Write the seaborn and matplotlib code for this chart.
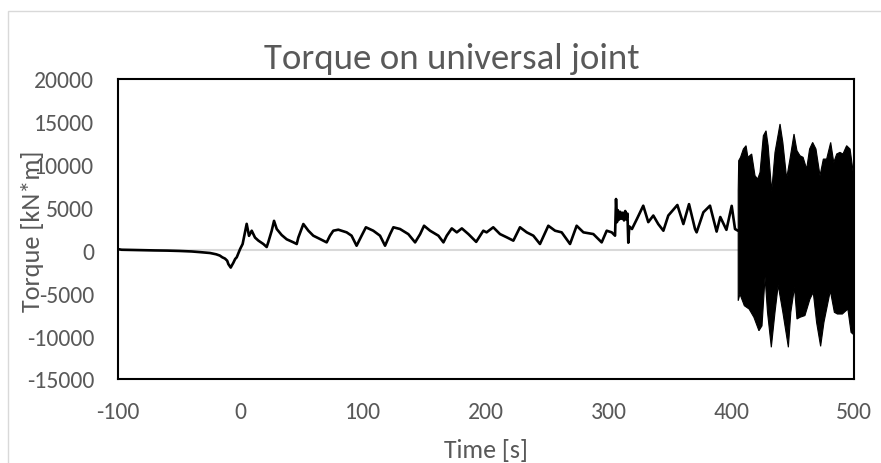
import numpy as np
import pandas as pd
import matplotlib
matplotlib.use("Agg")
import matplotlib.pyplot as plt
from matplotlib import font_manager
from matplotlib.patches import Rectangle
import seaborn as sns

# Torque signal before the burst (time in s, torque in kN*m)
time_s = [
    -100, -97, -90, -80, -70, -60, -50, -40, -33, -25, -20, -17, -15, -12.8, -11,
    -10, -8.1, -7, -6, -4.5, -3.2, -0.5, 1.6, 3.5, 4.9, 6.8, 9.0, 11.7, 14.4,
    18.5, 21.2, 22.5, 25.3, 27.2, 29.4, 33.4, 37.5, 42.9, 45.7, 47.0, 51.1, 55.2,
    59.2, 64.7, 70.1, 72.8, 75.5, 79.6, 86.4, 90.4, 94.5, 98.6, 102.1, 108.1,
    113.6, 117.7, 121.8, 124.5, 129.9, 136.7, 142.2, 146.3, 149.5, 154.4, 161.2,
    165.3, 168.0, 172.1, 176.2, 180.3, 185.7, 192.0, 197.8, 200.5, 205.9, 211.4,
    216.9, 222.3, 227.7, 233.2, 238.6, 244.0, 250.8, 256.3, 261.7, 268.5, 273.9,
    279.4, 287.5, 294.3, 298.4, 302.5, 305.2, 306.0, 306.8, 307.5, 308.5, 309.5,
    310.5, 311.5, 312.5, 313.5, 314.5, 315.3, 316.0, 316.8, 319.0, 323.1, 328.2,
    332.3, 336.4, 340.4, 344.6, 348.6, 356.0, 360.9, 365.5, 370.4, 371.7, 377.2,
    382.6, 388.0, 391.0, 396.0, 400.3, 403.0, 405.4,
]
torque_knm = [
    150, 80, 60, 30, 0, -20, -60, -120, -200, -300, -450, -600, -800, -950, -1200,
    -1600, -2000, -1700, -1450, -1000, -800, 150, 750, 2100, 3100, 1700, 2300, 1500, 1150,
    750, 400, 950, 2300, 3450, 2500, 1800, 1300, 950, 750, 1500, 3080, 2300,
    1720, 1330, 940, 1720, 2300, 2420, 2110, 1720, 550, 1720, 2700, 2300,
    1720, 550, 1900, 2700, 2500, 1900, 940, 1900, 2880, 2300, 1720,
    940, 1720, 2570, 2110, 2570, 1900, 1000, 2300, 2110, 2700, 1910,
    1530, 1140, 2700, 2110, 1720, 750, 2880, 2300, 2110, 750, 2880,
    2110, 1910, 940, 2300, 2110, 1720, 6000, 3300, 4700, 3600, 4500,
    3700, 4400, 3500, 4600, 3600, 4300, 900, 2800, 2500, 3690, 5220,
    3300, 4070, 3080, 2300, 4070, 5300, 3080, 5400, 2500, 2110, 4450,
    5220, 2200, 3900, 2400, 5200, 2500, 2300,
]

# Upper and lower envelope of the high-frequency burst after ~405 s
burst_time_upper = [
    405.6, 406.0, 407.5, 409.8, 412.0, 413.5, 416.6, 419.3, 421.5, 423.4, 426.1,
    428.3, 430.0, 432.9, 435.6, 439.7, 442.0, 445.1, 447.8, 451.1, 453.5, 456.0,
    458.5, 461.4, 463.8, 466.3, 469.0, 472.3, 475.0, 477.7, 481.0, 483.5, 485.9,
    488.5, 491.0, 494.0, 496.8, 499.0, 500.0,
]
burst_upper = [
    7000, 10470, 10860, 11830, 12220, 10860, 11250, 8720, 8330, 9110, 13380,
    13960, 12220, 6900, 11440, 14750, 12600, 8400, 10660, 13580, 11640, 11050,
    10860, 9500, 11830, 12600, 11830, 8720, 10660, 10660, 12600, 10270, 11250,
    11440, 11250, 12220, 11830, 9500, 7900,
]
burst_time_lower = [
    405.6, 407.0, 410.6, 414.5, 418.4, 422.5, 425.0, 427.5, 429.5, 432.6, 435.6,
    438.2, 442.0, 446.5, 448.5, 451.5, 453.5, 456.0, 460.0, 464.1, 466.8, 469.5,
    472.8, 475.5, 480.7, 484.0, 486.5, 490.5, 495.0, 497.6, 499.5, 500.0,
]
burst_lower = [
    -5870, -5090, -6450, -6840, -7800, -9370, -8800, -3100, -7220, -11300, -7220,
    -4050, -7220, -11300, -7220, -4300, -8000, -7800, -7600, -5670, -4890, -8390,
    -11190, -8390, -4700, -7220, -7420, -7420, -6840, -9560, -9800, -9000,
]

x_ticks = [-100, 0, 100, 200, 300, 400, 500]
y_ticks = [-15000, -10000, -5000, 0, 5000, 10000, 15000, 20000]

TEXT = "#595959"
GRID = "#d9d9d9"

sns.set_theme(style="white")
installed = {f.name for f in font_manager.fontManager.ttflist}
base_font = "Carlito" if "Carlito" in installed else "Lato"
plt.rcParams["font.family"] = [base_font, "DejaVu Sans"]

W, H = 881, 464
fig = plt.figure(figsize=(W / 100, H / 100), dpi=100)
fig.patch.set_facecolor("white")
renderer = fig.canvas.get_renderer()


def fit_size(artist, target_px, start_pt, vertical=False):
    """Scale a text artist's font so its extent spans target_px pixels."""
    artist.set_fontsize(start_pt)
    bb = artist.get_window_extent(renderer)
    span = bb.height if vertical else bb.width
    artist.set_fontsize(start_pt * target_px / span)
    return start_pt * target_px / span


def fx(px):
    return px / W


def fy(py):
    return 1 - py / H


# light chart-area frame
fig.add_artist(Rectangle((fx(8), -0.1), 1.2, fy(12) + 0.1,
                         transform=fig.transFigure, fill=False,
                         edgecolor=GRID, linewidth=1.0))

ax = fig.add_axes([fx(118), fy(380), (854 - 118) / W, (380 - 80) / H])

ax.axhline(0, color=GRID, linewidth=1.5, zorder=1)

signal = pd.DataFrame({"Time [s]": time_s, "Torque [kN*m]": torque_knm})
sns.lineplot(data=signal, x="Time [s]", y="Torque [kN*m]", ax=ax,
             color="black", linewidth=1.9, estimator=None, sort=False, zorder=3)

poly_t = np.concatenate([burst_time_upper, burst_time_lower[::-1]])
poly_v = np.concatenate([burst_upper, burst_lower[::-1]])
ax.fill(poly_t, poly_v, facecolor="black", edgecolor="black", linewidth=0.8, zorder=3)

ax.set_xlim(x_ticks[0], x_ticks[-1])
ax.set_ylim(y_ticks[0], y_ticks[-1])
ax.set_xticks(x_ticks)
ax.set_yticks(y_ticks)
ax.set_xticklabels([str(v) for v in x_ticks])
ax.set_yticklabels([str(v) for v in y_ticks])
ax.set_xlabel("")
ax.set_ylabel("")
for s in ax.spines.values():
    s.set_visible(True)
    s.set_color("black")
    s.set_linewidth(1.5)

# tick label size chosen so that "20000" is about 60 px wide
probe = fig.text(0, 0, "20000")
tick_pt = fit_size(probe, 60, 14)
probe.remove()
ax.tick_params(axis="both", length=0, labelsize=tick_pt, labelcolor=TEXT)
ax.tick_params(axis="y", pad=24 * 0.72)
ax.tick_params(axis="x", pad=39 * 0.72)
for lab in ax.get_xticklabels():
    lab.set_verticalalignment("baseline")

title = fig.text(fx(451.5), fy(69), "Torque on universal joint", ha="center",
                 va="baseline", color=TEXT)
fit_size(title, 376, 22)
xlab = fig.text(fx(486), fy(458), "Time [s]", ha="center", va="baseline", color=TEXT)
fit_size(xlab, 84, 16)
ylab = fig.text(fx(40), fy(231), "Torque [kN*m]", ha="center", va="baseline",
                rotation=90, rotation_mode="anchor", color=TEXT)
fit_size(ylab, 162, 16, vertical=True)

fig.savefig("out.png", dpi=100, facecolor="white")
